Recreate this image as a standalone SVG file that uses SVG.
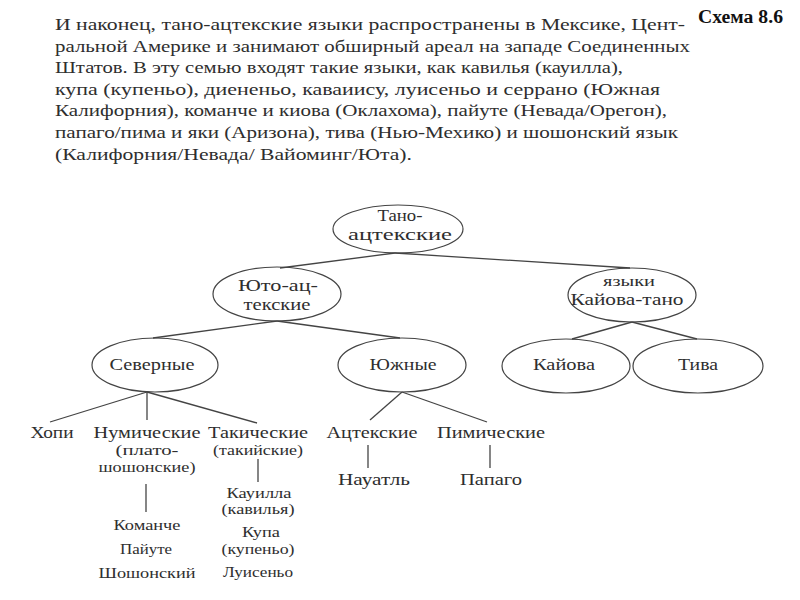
<svg xmlns="http://www.w3.org/2000/svg" width="800" height="600" viewBox="0 0 800 600">
<style>
.bg{fill:#fff}
.para{font-family:"Liberation Serif","DejaVu Serif",serif;font-size:17px;fill:#2e2e2e}
.title{font-family:"Liberation Serif","DejaVu Serif",serif;font-size:18px;font-weight:bold;fill:#111}
.n{fill:none;stroke:#444;stroke-width:1.2}
.lb{font-family:"Liberation Serif","DejaVu Serif",serif;font-size:17px;fill:#2e2e2e;text-anchor:middle}
.sm{font-family:"Liberation Serif","DejaVu Serif",serif;font-size:14.5px;fill:#2e2e2e;text-anchor:middle}
.c line{stroke:#444;stroke-width:1.3}
</style>
<rect class="bg" width="800" height="600"/>
<g id="text-block">
<text class="para" x="55" y="30" textLength="630" lengthAdjust="spacingAndGlyphs">И наконец, тано-ацтекские языки распространены в Мексике, Цент-</text>
<text class="para" x="55" y="51.6" textLength="635" lengthAdjust="spacingAndGlyphs">ральной Америке и занимают обширный ареал на западе Соединенных</text>
<text class="para" x="55" y="73.2" textLength="568" lengthAdjust="spacingAndGlyphs">Штатов. В эту семью входят такие языки, как кавилья (кауилла),</text>
<text class="para" x="55" y="94.8" textLength="605" lengthAdjust="spacingAndGlyphs">купа (купеньо), диененьо, каваиису, луисеньо и серрано (Южная</text>
<text class="para" x="55" y="116.4" textLength="612" lengthAdjust="spacingAndGlyphs">Калифорния), команче и киова (Оклахома), пайуте (Невада/Орегон),</text>
<text class="para" x="55" y="138" textLength="623" lengthAdjust="spacingAndGlyphs">папаго/пима и яки (Аризона), тива (Нью-Мехико) и шошонский язык</text>
<text class="para" x="55" y="159.6" textLength="357" lengthAdjust="spacingAndGlyphs">(Калифорния/Невада/ Вайоминг/Юта).</text>
</g>
<text id="title" class="title" x="698" y="23" textLength="85" lengthAdjust="spacingAndGlyphs">Схема 8.6</text>
<g id="connectors" class="c">
<line x1="395" y1="253" x2="280" y2="268"/>
<line x1="395" y1="253" x2="630" y2="268"/>
<line x1="277" y1="321" x2="153" y2="338"/>
<line x1="277" y1="321" x2="400" y2="338"/>
<line x1="632" y1="322" x2="572" y2="339"/>
<line x1="632" y1="322" x2="697" y2="339"/>
<line x1="147" y1="392" x2="50" y2="422"/>
<line x1="147" y1="392" x2="147" y2="420"/>
<line x1="147" y1="392" x2="257" y2="423"/>
<line x1="146" y1="484" x2="146" y2="512"/>
<line x1="258" y1="459" x2="258" y2="482"/>
<line x1="402" y1="392" x2="370" y2="420"/>
<line x1="402" y1="392" x2="487" y2="422"/>
<line x1="368" y1="445" x2="368" y2="468"/>
<line x1="490" y1="445" x2="490" y2="468"/>
</g>
<g id="tano-aztec">
<ellipse class="n" cx="398" cy="229" rx="65" ry="24"/>
<text class="lb" x="400" y="221" textLength="45" lengthAdjust="spacingAndGlyphs">Тано-</text>
<text class="lb" x="400" y="240" textLength="104" lengthAdjust="spacingAndGlyphs">ацтекские</text>
</g>
<g id="uto-aztec">
<ellipse class="n" cx="277" cy="294" rx="64" ry="27"/>
<text class="lb" x="278" y="291" textLength="80" lengthAdjust="spacingAndGlyphs">Юто-ац-</text>
<text class="lb" x="277" y="310" textLength="67" lengthAdjust="spacingAndGlyphs">текские</text>
</g>
<g id="kiowa-tanoan">
<ellipse class="n" cx="632" cy="295" rx="64" ry="27"/>
<text class="sm" x="629" y="286" textLength="52" lengthAdjust="spacingAndGlyphs">языки</text>
<text class="lb" x="627" y="305" textLength="113" lengthAdjust="spacingAndGlyphs">Кайова-тано</text>
</g>
<g id="northern">
<ellipse class="n" cx="155" cy="365" rx="63" ry="27"/>
<text class="lb" x="152" y="370" textLength="85" lengthAdjust="spacingAndGlyphs">Северные</text>
</g>
<g id="southern">
<ellipse class="n" cx="402" cy="365" rx="64" ry="27"/>
<text class="lb" x="403" y="370" textLength="67" lengthAdjust="spacingAndGlyphs">Южные</text>
</g>
<g id="kiowa">
<ellipse class="n" cx="566" cy="366" rx="64" ry="27"/>
<text class="lb" x="564" y="370" textLength="62" lengthAdjust="spacingAndGlyphs">Кайова</text>
</g>
<g id="tiwa">
<ellipse class="n" cx="698" cy="366" rx="65" ry="27"/>
<text class="lb" x="698" y="370" textLength="40" lengthAdjust="spacingAndGlyphs">Тива</text>
</g>
<g id="hopi">
<text class="lb" x="52" y="438" textLength="43" lengthAdjust="spacingAndGlyphs">Хопи</text>
</g>
<g id="numic">
<text class="lb" x="147" y="438" textLength="107" lengthAdjust="spacingAndGlyphs">Нумические</text>
<text class="sm" x="147" y="455" textLength="63" lengthAdjust="spacingAndGlyphs">(плато-</text>
<text class="sm" x="147" y="471.5" textLength="97" lengthAdjust="spacingAndGlyphs">шошонские)</text>
</g>
<g id="takic">
<text class="lb" x="258" y="438" textLength="100" lengthAdjust="spacingAndGlyphs">Такические</text>
<text class="sm" x="258" y="455" textLength="90" lengthAdjust="spacingAndGlyphs">(такийские)</text>
</g>
<g id="numic-langs">
<text class="sm" x="147" y="530" textLength="67" lengthAdjust="spacingAndGlyphs">Команче</text>
<text class="sm" x="146" y="554" textLength="52" lengthAdjust="spacingAndGlyphs">Пайуте</text>
<text class="sm" x="147" y="578" textLength="97" lengthAdjust="spacingAndGlyphs">Шошонский</text>
</g>
<g id="takic-langs">
<text class="sm" x="259" y="497.5" textLength="65" lengthAdjust="spacingAndGlyphs">Кауилла</text>
<text class="sm" x="258" y="514" textLength="73" lengthAdjust="spacingAndGlyphs">(кавилья)</text>
<text class="sm" x="261" y="537" textLength="38" lengthAdjust="spacingAndGlyphs">Купа</text>
<text class="sm" x="258" y="553.5" textLength="73" lengthAdjust="spacingAndGlyphs">(купеньо)</text>
<text class="sm" x="258" y="576.5" textLength="70" lengthAdjust="spacingAndGlyphs">Луисеньо</text>
</g>
<g id="aztecan">
<text class="lb" x="372" y="438" textLength="91" lengthAdjust="spacingAndGlyphs">Ацтекские</text>
</g>
<g id="piman">
<text class="lb" x="491" y="438" textLength="108" lengthAdjust="spacingAndGlyphs">Пимические</text>
</g>
<g id="nahuatl">
<text class="lb" x="374" y="485" textLength="72" lengthAdjust="spacingAndGlyphs">Науатль</text>
</g>
<g id="papago">
<text class="lb" x="491" y="485" textLength="62" lengthAdjust="spacingAndGlyphs">Папаго</text>
</g>
</svg>
